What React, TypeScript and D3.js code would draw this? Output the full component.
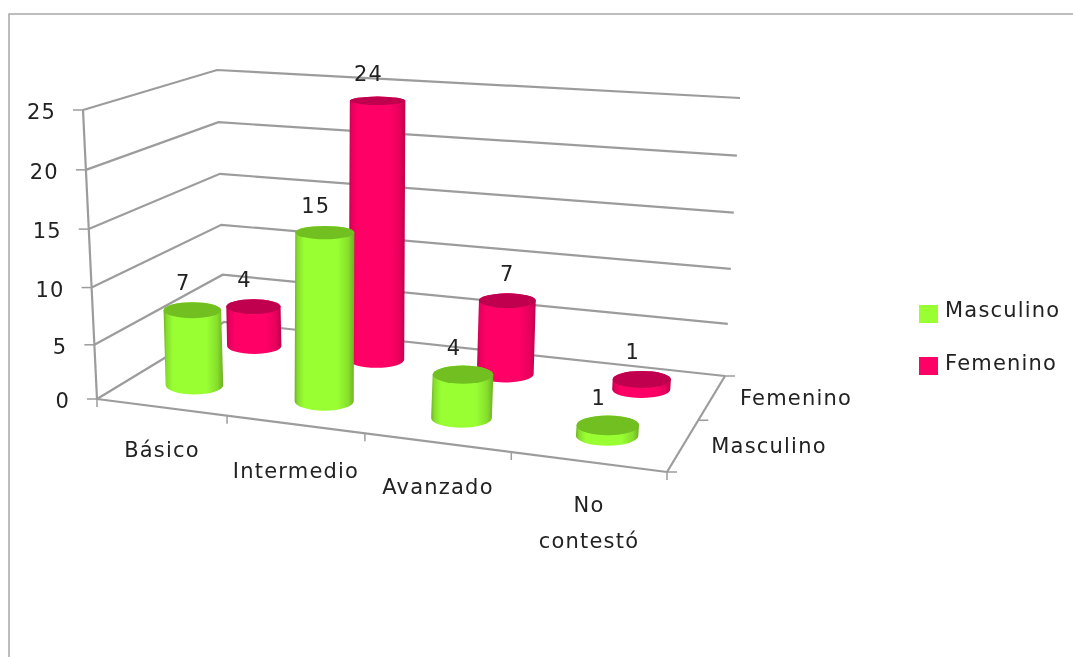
import React from "react";
import * as d3 from "d3";

const categories = ["Básico", "Intermedio", "Avanzado", "No contestó"];
const seriesNames = ["Masculino", "Femenino"];
const masculino = [7, 15, 4, 1];
const femenino = [4, 24, 7, 1];
const yTicks = [0, 5, 10, 15, 20, 25];

const GREEN = { body: "#99ff33", mid: "#86de2c", edge: "#6fae24", top: "#72bf22" };
const RED = { body: "#ff0066", mid: "#e6005c", edge: "#bd004b", top: "#c0004e" };
const GRID = "#9c9c9c";
const FONT = "'DejaVu Sans', Verdana, sans-serif";
const TEXT = "#222222";
const FS = 21;
const LS = 1.2;

type P = [number, number];
// floor corners: front-left, front-right, back-right, back-left
const FL: P = [97, 399], FR: P = [667, 472], BR: P = [725, 376], BL: P = [224, 322];
// the screen vector for full axis height at each floor corner
const HFL: P = [-14, -289], HFR: P = [26, -305], HBR: P = [15, -278], HBL: P = [-7, -252];

function homography(p0: P, p1: P, p2: P, p3: P) {
  const dx1 = p1[0] - p2[0], dx2 = p3[0] - p2[0], dx3 = p0[0] - p1[0] + p2[0] - p3[0];
  const dy1 = p1[1] - p2[1], dy2 = p3[1] - p2[1], dy3 = p0[1] - p1[1] + p2[1] - p3[1];
  const den = dx1 * dy2 - dx2 * dy1;
  const g = (dx3 * dy2 - dx2 * dy3) / den;
  const h = (dx1 * dy3 - dx3 * dy1) / den;
  const a = p1[0] - p0[0] + g * p1[0], b = p3[0] - p0[0] + h * p3[0], c = p0[0];
  const d = p1[1] - p0[1] + g * p1[1], e = p3[1] - p0[1] + h * p3[1], f = p0[1];
  return (u: number, v: number): P => {
    const w = g * u + h * v + 1;
    return [(a * u + b * v + c) / w, (d * u + e * v + f) / w];
  };
}
const floor = homography(FL, FR, BR, BL);
const hFrac = d3.scalePow().exponent(1.04).domain([0, 25]).range([0, 1]);
const catPos = d3.scaleBand<string>().domain(categories).range([0, 1]);
const depthPos = d3.scaleBand<string>().domain(seriesNames).range([0, 1]);

function project(u: number, v: number, value: number): P {
  const [x, y] = floor(u, v);
  const t = hFrac(value);
  const mix = (k: 0 | 1) =>
    (1 - u) * (1 - v) * HFL[k] + u * (1 - v) * HFR[k] + u * v * HBR[k] + (1 - u) * v * HBL[k];
  return [x + mix(0) * t, y + mix(1) * t];
}
const seg = (a: P, b: P) => `M${a[0]},${a[1]}L${b[0]},${b[1]}`;
const ryScale = d3.scaleLinear().domain([100, 430]).range([4.5, 10]);
const duScale = d3.scaleLinear().domain([0.125, 0.875]).range([0.057, 0.052]);

function Cylinder({ cat, series, value }: { cat: string; series: string; value: number }) {
  const u = catPos(cat)! + catPos.bandwidth() / 2;
  const v = depthPos(series)! + depthPos.bandwidth() / 2;
  const B = project(u, v, 0);
  const T = project(u, v, value);
  const du = duScale(u);
  const rx = (floor(u + du, v)[0] - floor(u - du, v)[0]) / 2;
  const k = series === "Masculino" ? 1 : 0.93;
  const ry = ryScale(T[1]) * k;
  const ryB = ryScale(B[1]) * k;
  const c = series === "Masculino" ? GREEN : RED;
  const id = series === "Masculino" ? "gradM" : "gradF";
  const body = `M${T[0] - rx},${T[1]}L${B[0] - rx},${B[1]}A${rx},${ryB} 0 0 0 ${B[0] + rx},${B[1]}L${T[0] + rx},${T[1]}A${rx},${ry} 0 0 0 ${T[0] - rx},${T[1]}Z`;
  return (
    <g>
      <path d={body} fill={`url(#${id})`} />
      <ellipse cx={T[0]} cy={T[1]} rx={rx} ry={ry} fill={c.top} />
    </g>
  );
}

function valueLabel(cat: string, series: string, value: number) {
  const u = catPos(cat)! + catPos.bandwidth() / 2;
  const v = depthPos(series)! + depthPos.bandwidth() / 2;
  const T = project(u, v, value);
  const dx = cat === "Avanzado" && series === "Femenino" ? 0 : -9;
  return (
    <text key={cat + series} x={T[0] + dx} y={T[1] - 20} textAnchor="middle">
      {value}
    </text>
  );
}

const catLabelPos: P[] = [[162, 457], [296, 478], [438, 494], [589, 512]];
const depthLabels: { t: string; x: number; y: number }[] = [
  { t: "Femenino", x: 796, y: 405 },
  { t: "Masculino", x: 769, y: 453 },
];

export default function App() {
  const gridPaths = yTicks.map((t) => {
    const a = project(0, 0, t), b = project(0, 1, t), c = project(1, 1, t);
    return `M${a[0]},${a[1]}L${b[0]},${b[1]}L${c[0]},${c[1]}`;
  });
  const xTickU = d3.range(1, 5).map((i) => i / 4);
  return (
    <svg width={1073} height={657} style={{ position: "absolute", left: 0, top: 0, background: "#fff" }}>
      <defs>
        {[["gradM", GREEN], ["gradF", RED]].map(([id, c]: any) => (
          <linearGradient key={id} id={id} x1="0" x2="1" y1="0" y2="0">
            <stop offset="0" stopColor={c.edge} />
            <stop offset="0.05" stopColor={c.mid} />
            <stop offset="0.16" stopColor={c.body} />
            <stop offset="0.72" stopColor={c.body} />
            <stop offset="0.9" stopColor={c.mid} />
            <stop offset="1" stopColor={c.edge} />
          </linearGradient>
        ))}
      </defs>
      <path d="M9,657L9,14L1073,14" fill="none" stroke="#a8a8a8" strokeWidth={1.5} />
      <g style={{ filter: "blur(0.45px)" }}>
        {gridPaths.map((d, i) => (
          <path key={i} d={d} fill="none" stroke={GRID} strokeWidth={2.2} />
        ))}
        <path d={seg(project(0, 0, 0), project(0, 0, 25))} stroke={GRID} strokeWidth={2.2} />
        <path d={seg(project(0, 0, 0), project(1, 0, 0))} stroke={GRID} strokeWidth={2.2} />
        <path d={seg(project(1, 0, 0), project(1, 1, 0))} stroke={GRID} strokeWidth={2.2} />
        {yTicks.map((t) => {
          const p = project(0, 0, t);
          return <path key={t} d={seg(p, [p[0] - 10, p[1]])} stroke={GRID} strokeWidth={1.5} />;
        })}
        {[0, ...xTickU].map((u) => {
          const p = project(u, 0, 0);
          return <path key={u} d={seg(p, [p[0], p[1] + 8])} stroke={GRID} strokeWidth={1.5} />;
        })}
        {[0, 0.5, 1].map((v) => {
          const p = project(1, v, 0);
          return <path key={v} d={seg(p, [p[0] + 10, p[1]])} stroke={GRID} strokeWidth={1.5} />;
        })}
        {categories.map((c, i) => (
          <Cylinder key={c} cat={c} series="Femenino" value={femenino[i]} />
        ))}
        {categories.map((c, i) => (
          <Cylinder key={c} cat={c} series="Masculino" value={masculino[i]} />
        ))}
        <rect x={919} y={305} width={19} height={18} fill={GREEN.body} />
        <rect x={919} y={357} width={19} height={18} fill={RED.body} />
        <g fontFamily={FONT} fontSize={FS} fill={TEXT} style={{ letterSpacing: LS }}>
          {yTicks.map((t) => {
            const p = project(0, 0, t);
            return <text key={t} x={p[0] - 27} y={p[1] + 9} textAnchor="end">{t}</text>;
          })}
          {categories.map((c, i) => {
            const lines = c === "No contestó" ? ["No", "contestó"] : [c];
            return (
              <text key={c} x={catLabelPos[i][0]} y={catLabelPos[i][1]} textAnchor="middle">
                {lines.map((l, j) => (
                  <tspan key={l} x={catLabelPos[i][0]} dy={j === 0 ? 0 : 36}>{l}</tspan>
                ))}
              </text>
            );
          })}
          {depthLabels.map((d) => (
            <text key={d.t} x={d.x} y={d.y} textAnchor="middle">{d.t}</text>
          ))}
          <text x={945} y={317}>{seriesNames[0]}</text>
          <text x={945} y={370}>{seriesNames[1]}</text>
          {categories.map((c, i) => valueLabel(c, "Femenino", femenino[i]))}
          {categories.map((c, i) => valueLabel(c, "Masculino", masculino[i]))}
        </g>
      </g>
    </svg>
  );
}
